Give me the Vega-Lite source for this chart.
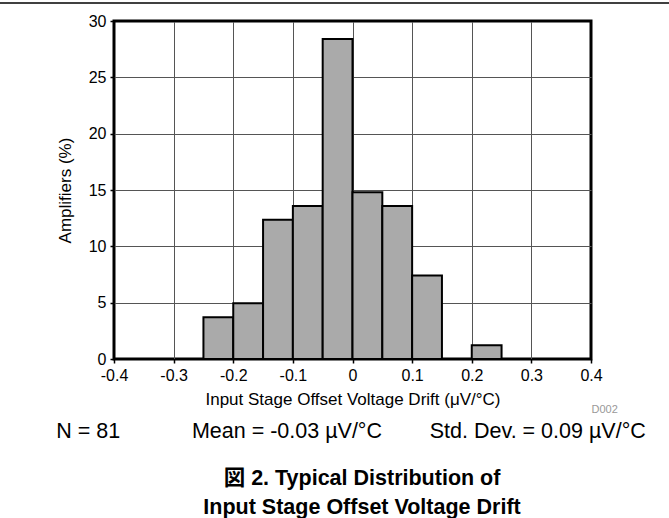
{
  "$schema": "https://vega.github.io/schema/vega-lite/v6.json",
  "width": 477,
  "height": 338,
  "autosize": {"type": "none"},
  "padding": {"left": 114, "top": 21, "right": 78, "bottom": 159},
  "background": "white",
  "config": {
    "font": "Liberation Sans",
    "view": {"stroke": "black", "strokeWidth": 3},
    "axis": {
      "gridWidth": 1,
      "gridOpacity": 1,
      "domain": false,
      "tickColor": "black",
      "tickSize": 4,
      "tickWidth": 1.5,
      "labelColor": "black",
      "labelFontSize": 16,
      "labelFont": "Liberation Sans",
      "labelPadding": 4,
      "titleFont": "Liberation Sans",
      "titleFontWeight": "normal",
      "titleFontSize": 17,
      "titleColor": "black"
    }
  },
  "datasets": {
    "bins": [
      {"lo": -0.25, "hi": -0.2, "pct": 3.70},
      {"lo": -0.2, "hi": -0.15, "pct": 4.94},
      {"lo": -0.15, "hi": -0.1, "pct": 12.35},
      {"lo": -0.1, "hi": -0.05, "pct": 13.58},
      {"lo": -0.05, "hi": 0.0, "pct": 28.40},
      {"lo": 0.0, "hi": 0.05, "pct": 14.81},
      {"lo": 0.05, "hi": 0.1, "pct": 13.58},
      {"lo": 0.1, "hi": 0.15, "pct": 7.41},
      {"lo": 0.2, "hi": 0.25, "pct": 1.23}
    ]
  },
  "layer": [
    {
      "data": {"name": "bins"},
      "mark": {"type": "bar", "fill": "#aaaaaa", "stroke": "black", "strokeWidth": 2},
      "encoding": {
        "x": {
          "field": "lo",
          "type": "quantitative",
          "scale": {"domain": [-0.4, 0.4], "nice": false, "zero": false},
          "axis": {
            "values": [-0.4, -0.3, -0.2, -0.1, 0, 0.1, 0.2, 0.3, 0.4],
            "labelExpr": "replace(format(datum.value, '.1~f'), '\u2212', '-')",
            "title": "Input Stage Offset Voltage Drift (μV/°C)",
            "titlePadding": 8,
            "labelFlush": false,
            "gridColor": {"condition": {"test": "abs(datum.value) > 0.35", "value": "black"}, "value": "#555555"}
          }
        },
        "x2": {"field": "hi"},
        "y": {
          "field": "pct",
          "type": "quantitative",
          "scale": {"domain": [0, 30], "nice": false},
          "axis": {
            "values": [0, 5, 10, 15, 20, 25, 30],
            "title": "Amplifiers (%)",
            "titlePadding": 14,
            "labelFlush": false,
            "gridColor": {"condition": {"test": "datum.value == 0 || datum.value == 30", "value": "black"}, "value": "#555555"}
          }
        },
        "y2": {"datum": 0}
      }
    },
    {
      "data": {"values": [{"label": "D002"}]},
      "mark": {"type": "text", "align": "right", "baseline": "alphabetic", "fontSize": 11, "color": "#999999", "font": "Liberation Sans"},
      "encoding": {
        "x": {"datum": 0.445, "type": "quantitative"},
        "y": {"datum": -4.79, "type": "quantitative"},
        "text": {"field": "label"}
      }
    },
    {
      "data": {"values": [{"label": "N = 81\u00a0\u00a0\u00a0\u00a0\u00a0\u00a0\u00a0\u00a0\u00a0\u00a0\u00a0\u00a0Mean = -0.03 µV/°C\u00a0\u00a0\u00a0\u00a0\u00a0\u00a0\u00a0\u00a0Std. Dev. = 0.09 µV/°C"}]},
      "mark": {"type": "text", "align": "center", "baseline": "alphabetic", "fontSize": 21.5, "color": "black", "font": "Liberation Sans"},
      "encoding": {
        "x": {"datum": -0.0025, "type": "quantitative"},
        "y": {"datum": -6.97, "type": "quantitative"},
        "text": {"field": "label"}
      }
    },
    {
      "data": {"values": [{"line1": "図 2. Typical Distribution of", "line2": "Input Stage Offset Voltage Drift"}]},
      "transform": [{"calculate": "[datum.line1, datum.line2]", "as": "caption"}],
      "mark": {"type": "text", "align": "center", "baseline": "alphabetic", "fontSize": 21.5, "fontWeight": "bold", "color": "black", "font": "Liberation Sans, Noto Sans CJK JP", "lineHeight": 29},
      "encoding": {
        "x": {"datum": 0.016, "type": "quantitative"},
        "y": {"datum": -11.18, "type": "quantitative"},
        "text": {"field": "caption"}
      }
    },
    {
      "data": {"values": [{"a": 1}]},
      "mark": {"type": "rule", "color": "black", "strokeWidth": 1.5},
      "encoding": {
        "x": {"datum": -0.6, "type": "quantitative"},
        "x2": {"datum": 0.55},
        "y": {"datum": 31.6, "type": "quantitative"}
      }
    }
  ]
}
